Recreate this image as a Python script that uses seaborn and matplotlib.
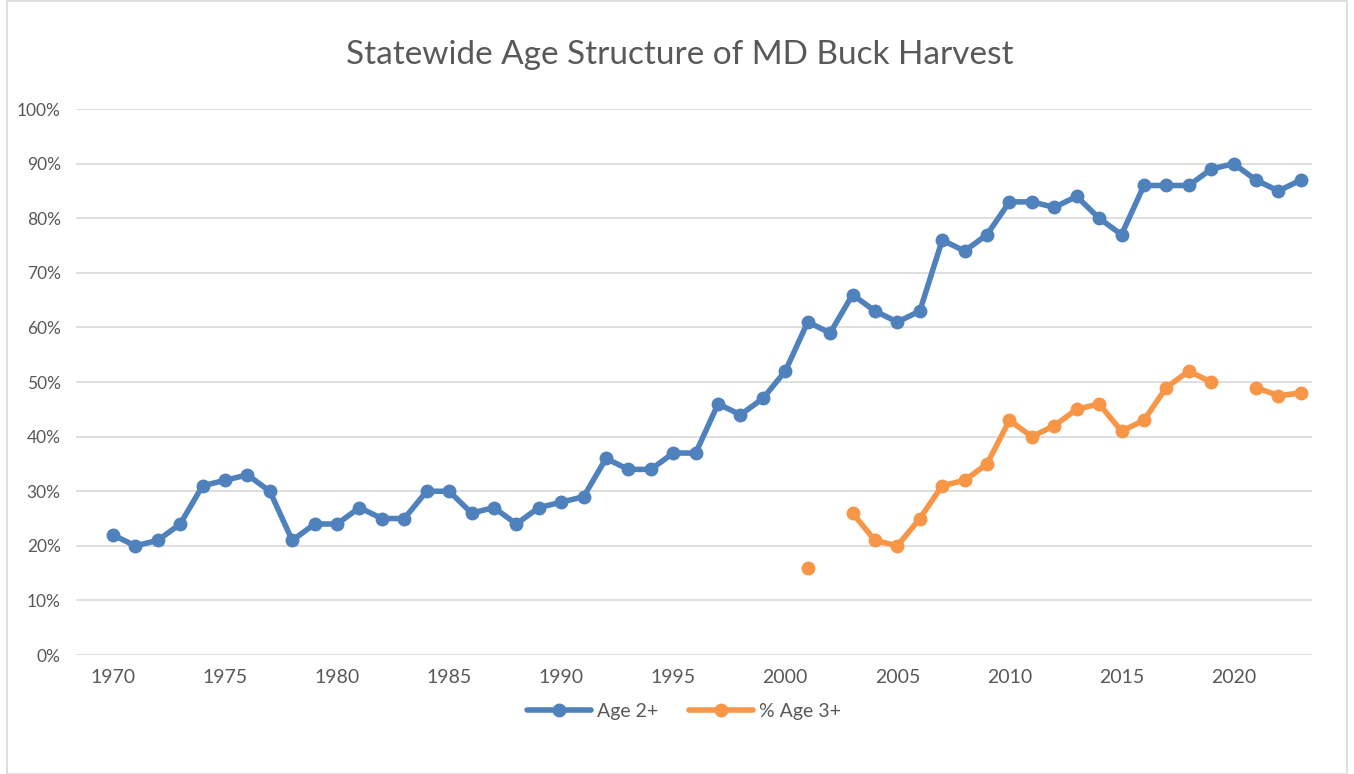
import numpy as np
import pandas as pd
import matplotlib
matplotlib.use("Agg")
import matplotlib.pyplot as plt
from matplotlib.patches import Rectangle
from matplotlib.ticker import PercentFormatter
import seaborn as sns

years = list(range(1970, 2024))

age2_plus = [22, 20, 21, 24, 31, 32, 33, 30, 21, 24,
             24, 27, 25, 25, 30, 30, 26, 27, 24, 27,
             28, 29, 36, 34, 34, 37, 37, 46, 44, 47,
             52, 61, 59, 66, 63, 61, 63, 76, 74, 77,
             83, 83, 82, 84, 80, 77, 86, 86, 86, 89,
             90, 87, 85, 87]

# None = no value that year (gap in the line)
age3_years = list(range(2001, 2024))
age3_plus = [16, None, 26, 21, 20, 25, 31, 32, 35, 43,
             40, 42, 45, 46, 41, 43, 49, 52, 50, None,
             49, 47.5, 48]

x_ticks = list(range(1970, 2021, 5))
y_ticks = list(range(0, 101, 10))

BLUE = "#4F81BD"
ORANGE = "#F79646"
GREY = "#595959"

sns.set_theme(style="white")
plt.rcParams["font.family"] = ["Lato", "DejaVu Sans"]

df2 = pd.DataFrame({"year": years, "value": age2_plus})

# split the 3+ series into runs so missing years leave gaps
df3 = pd.DataFrame({"year": age3_years, "value": age3_plus})
df3["segment"] = df3["value"].isna().cumsum()
df3 = df3.dropna()

fig = plt.figure(figsize=(13.54, 7.74), dpi=100)
ax = fig.add_axes([0.0561, 0.1537, 0.9129, 0.7054])

line_kw = dict(linewidth=4.0, marker="o", markersize=10, markeredgewidth=0)
sns.lineplot(data=df2, x="year", y="value", color=BLUE, ax=ax, **line_kw)
sns.lineplot(data=df3, x="year", y="value", units="segment", estimator=None,
             color=ORANGE, ax=ax, **line_kw)

ax.set_xlim(1968.35, 2023.5)
ax.set_ylim(0, 100)
ax.set_xticks(x_ticks)
ax.set_yticks(y_ticks)
ax.yaxis.set_major_formatter(PercentFormatter(decimals=0))
ax.grid(axis="y", color="#D9D9D9", linewidth=1.2)
ax.set_axisbelow(True)
for s in ax.spines.values():
    s.set_visible(False)
ax.tick_params(axis="x", length=0, labelsize=14, colors=GREY, pad=10)
ax.tick_params(axis="y", length=0, labelsize=12.5, colors=GREY, pad=11)
ax.set_xlabel("")
ax.set_ylabel("")

fig.text(0.502, 0.929, "Statewide Age Structure of MD Buck Harvest",
         ha="center", va="center", fontsize=24, color=GREY)

handles = [plt.Line2D([], [], color=BLUE, **line_kw),
           plt.Line2D([], [], color=ORANGE, **line_kw)]
fig.legend(handles, ["Age 2+", "% Age 3+"], loc="center",
           bbox_to_anchor=(0.505, 0.081), ncol=2, frameon=False,
           fontsize=14, labelcolor=GREY, handlelength=3.3,
           handletextpad=0.3, columnspacing=1.6)

fig.patches.append(Rectangle((0.005, 0.0), 0.99, 0.999, transform=fig.transFigure,
                             fill=False, edgecolor="#D9D9D9", linewidth=1.2))

fig.savefig("out.png", dpi=100)
